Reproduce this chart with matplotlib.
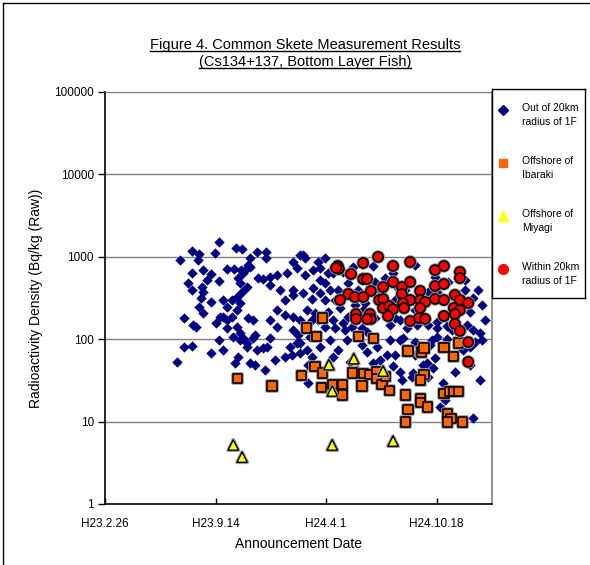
import datetime as dt
import matplotlib
matplotlib.use('Agg')
import matplotlib.pyplot as plt
import matplotlib.patheffects as pe
from matplotlib.lines import Line2D

plt.rcParams['font.family'] = ['Liberation Sans', 'DejaVu Sans']

# x values are days since the axis start (H23.2.26 = 2011-02-26)
START = dt.date(2011, 2, 26)

# Out of 20km radius of 1F
out_days = [206, 157, 136, 170, 168, 199, 237, 248, 275, 291, 291, 262, 259, 221, 233, 246, 255,
            157, 177, 192, 185, 206, 150, 157, 175, 177, 174, 170, 192, 143, 159, 165, 177, 201,
            213, 221, 221, 206, 192, 143, 157, 130, 213, 235, 241, 262, 244, 257, 268, 275, 286,
            293, 298, 311, 311, 268, 259, 239, 244, 230, 213, 239, 248, 244, 241, 250, 257, 262,
            277, 286, 298, 311, 298, 329, 340, 353, 362, 347, 340, 340, 340, 353, 374, 340, 349,
            347, 335, 326, 338, 353, 374, 221, 208, 230, 239, 244, 232, 250, 271, 257,
            358, 376, 389, 403, 412, 430, 449, 485, 521, 561, 389, 398, 407, 421, 376, 358, 374,
            389, 398, 420, 488, 507, 528, 597, 601, 633, 651, 666, 682, 365, 380, 403, 425, 440,
            467, 488, 412, 431, 398, 416, 447, 465, 474, 516, 534, 546, 564, 584, 601, 601, 619,
            655, 666, 678, 371, 353, 365, 389, 407, 421, 412, 438, 474, 492, 510, 534, 539, 516,
            561, 592, 601, 619, 648, 660, 669, 682, 443, 456, 485, 521, 534, 557, 575, 582, 597,
            584, 633, 367, 537, 555, 593, 611, 666,
            362, 385, 398, 440, 458, 470, 497, 525, 543, 561, 584, 620, 651, 675, 687, 660,
            628, 588, 561, 525, 497, 465, 434, 385, 367, 615, 606, 660, 678, 561, 525, 452,
            416, 326, 317, 326, 298, 308, 289, 271]
out_vals = [1510, 1175, 915, 1080, 915, 1110, 1280, 1245, 1140, 1140, 967, 967, 795, 711, 711, 690, 711,
            636, 690, 618, 523, 508, 481, 395, 430, 374, 316, 246, 283, 181, 149, 141, 208, 157,
            186, 171, 137, 98, 68, 80, 83, 53, 74, 51, 61, 51, 98, 90, 103, 74, 78,
            80, 103, 141, 226, 171, 181, 226, 275, 299, 299, 325, 374, 481, 553, 636, 430, 752,
            553, 538, 569, 600, 455, 636, 865, 1050, 967, 731, 395, 344, 186, 171, 171, 129, 112,
            90, 80, 61, 64, 68, 61, 246, 186, 186, 141, 119, 106, 103, 112, 80,
            1050, 690, 731, 636, 636, 654, 752, 773, 636, 795, 523, 481, 395, 395, 418, 364, 308,
            364, 299, 299, 494, 553, 430, 569, 374, 364, 395, 316, 260, 226, 208, 214, 239, 186,
            226, 181, 171, 157, 141, 137, 141, 137, 122, 149, 171, 137, 149, 149, 162, 137, 145,
            149, 129, 119, 106, 90, 74, 80, 98, 74, 61, 98, 70, 80, 64, 98, 103, 98,
            92, 98, 106, 101, 74, 80, 92, 98, 53, 42, 51, 47, 40, 39, 49, 51, 59,
            35, 40, 29, 32, 35, 45, 29, 11,
            600, 865, 967, 481, 395, 275, 395, 299, 395, 299, 374, 494, 523, 395, 171, 214,
            129, 85, 64, 64, 56, 85, 129, 171, 49, 18.3, 15, 49, 32, 226, 181, 260,
            299, 299, 395, 197, 171, 56, 42, 49]

# Offshore of Ibaraki
ibaraki_days = [239, 302, 356, 394, 365, 383, 458, 485, 548, 572, 577, 613, 640, 631, 380, 393, 447,
                467, 479, 492, 492, 501, 507, 514, 577, 570, 465, 429, 412, 391, 429, 544, 570, 570,
                584, 548, 544, 613, 624, 631, 640, 619, 626, 619, 646]
ibaraki_vals = [33, 27, 36, 181, 137, 109, 109, 101, 72, 70, 78, 80, 90, 61, 47, 39, 39,
                38, 37, 41, 33, 28, 35, 24, 37, 32, 27, 28, 28, 26, 21, 21, 19, 17,
                15, 14, 9.9, 22, 23, 23, 23, 12.4, 11, 9.9, 9.9]

# Offshore of Miyagi
miyagi_days = [405, 450, 503, 411, 232, 248, 411, 521]
miyagi_vals = [49, 58, 41, 23.5, 5.2, 3.7, 5.2, 5.8]

# Within 20km radius of 1F
within_days = [494, 421, 423, 418, 467, 445, 521, 552, 597, 613, 642, 642, 467, 474, 503, 521, 537,
               552, 597, 613, 481, 440, 425, 452, 467, 496, 503, 537, 552, 570, 570, 579, 597, 613,
               633, 642, 657, 503, 514, 521, 539, 541, 570, 631, 642, 633, 454, 454, 479, 481, 474,
               512, 552, 568, 579, 613, 633, 642, 657, 657]
within_vals = [995, 773, 711, 731, 841, 618, 773, 865, 690, 773, 654, 553, 538, 538, 430, 494, 430,
               494, 442, 468, 385, 354, 299, 325, 325, 299, 308, 354, 299, 385, 299, 283, 308, 299,
               344, 299, 275, 239, 253, 232, 275, 239, 239, 239, 226, 202, 202, 176, 202, 176, 176,
               191, 166, 181, 176, 191, 153, 126, 92, 53]

legend_labels = ['Out of 20km\nradius of 1F', 'Offshore of\nIbaraki',
                 'Offshore of\nMiyagi', 'Within 20km\nradius of 1F']
tick_days = [0, 200, 400, 600]
y_ticks = [1, 10, 100, 1000, 10000, 100000]

W, H = 590, 565
fig = plt.figure(figsize=(W / 100, H / 100), dpi=100)
ax = fig.add_axes([105 / W, 1 - 504 / H, 387 / W, 412 / H])

shadow = [pe.Stroke(linewidth=2.6, foreground='#9a9a9a'), pe.Normal()]

ax.scatter(out_days, out_vals, marker='D', s=28, color='#000080', linewidths=0, zorder=3)
ax.scatter(ibaraki_days, ibaraki_vals, marker='s', s=44, facecolor='#FF6600',
           edgecolor='black', linewidths=1.2, zorder=4, path_effects=shadow)
ax.scatter(miyagi_days, miyagi_vals, marker='^', s=55, facecolor='#FFFF00',
           edgecolor='black', linewidths=1.0, zorder=5, path_effects=shadow)
ax.scatter(within_days, within_vals, marker='o', s=52, facecolor='#FF0000',
           edgecolor='black', linewidths=1.2, zorder=6, path_effects=shadow)

ax.set_yscale('log')
ax.set_ylim(1, 100000)
ax.set_xlim(0, 700)
ax.set_yticks(y_ticks)
ax.set_yticklabels([str(v) for v in y_ticks])
ax.minorticks_off()


def heisei(d):
    return f'H{d.year - 1988}.{d.month}.{d.day}'


ax.set_xticks(tick_days)
ax.set_xticklabels([heisei(START + dt.timedelta(days=t)) for t in tick_days])
ax.tick_params(axis='x', direction='in', length=4, width=1, labelsize=8.5, pad=10)
ax.tick_params(axis='y', direction='out', length=5, width=1, labelsize=8.5, pad=3)

for v in y_ticks[1:]:
    ax.axhline(v, color='#808080', lw=1.0, zorder=1)
ax.spines['left'].set_color('black')
ax.spines['bottom'].set_color('black')
ax.spines['left'].set_linewidth(1.2)
ax.spines['bottom'].set_linewidth(1.2)
ax.spines['top'].set_color('#808080')
ax.spines['right'].set_color('#808080')
ax.spines['right'].set_linewidth(1.2)

ax.set_xlabel('Announcement Date', fontsize=10, labelpad=5)
ax.set_ylabel('Radioactivity Density (Bq/kg (Raw))', fontsize=10, labelpad=8)

# title, underlined
title_lines = ['Figure 4. Common Skete Measurement Results', '(Cs134+137, Bottom Layer Fish)']
title_texts = []
for i, line in enumerate(title_lines):
    t = fig.text(305 / W, 1 - (45 + 17 * i) / H, line, ha='center', va='center', fontsize=10.5)
    title_texts.append(t)
fig.canvas.draw()
for t in title_texts:
    bb = t.get_window_extent()
    yl = bb.y0 + 1.5
    fig.add_artist(Line2D([bb.x0 / W, bb.x1 / W], [yl / H, yl / H], color='black', lw=1.0))

# legend box
lax = fig.add_axes([492 / W, 1 - 298 / H, 93 / W, 209 / H])
lax.set_xlim(0, 93)
lax.set_ylim(209, 0)
lax.set_xticks([])
lax.set_yticks([])
for s in lax.spines.values():
    s.set_color('black')
    s.set_linewidth(1.0)
legend_styles = [dict(marker='D', ms=5.0, color='#000080', mec='#000080'),
                 dict(marker='s', ms=6.0, color='#FF6600', mec='#FF6600'),
                 dict(marker='^', ms=6.5, color='#FFFF00', mec='#FFFF00'),
                 dict(marker='o', ms=7.0, color='#FF0000', mec='#FF0000')]
for i, (lab, st) in enumerate(zip(legend_labels, legend_styles)):
    yy = 21 + 53 * i
    lax.plot([11], [yy], linestyle='none', **st)
    lax.text(30, yy - 7, lab, ha='left', va='top', fontsize=7.5, linespacing=1.45)

# frame line at left and top of the picture
fig.add_artist(Line2D([3 / W, 3 / W], [0, 1 - 3 / H], color='black', lw=1.0))
fig.add_artist(Line2D([3 / W, 1], [1 - 3 / H, 1 - 3 / H], color='black', lw=1.0))

fig.savefig('out.png', dpi=100)
